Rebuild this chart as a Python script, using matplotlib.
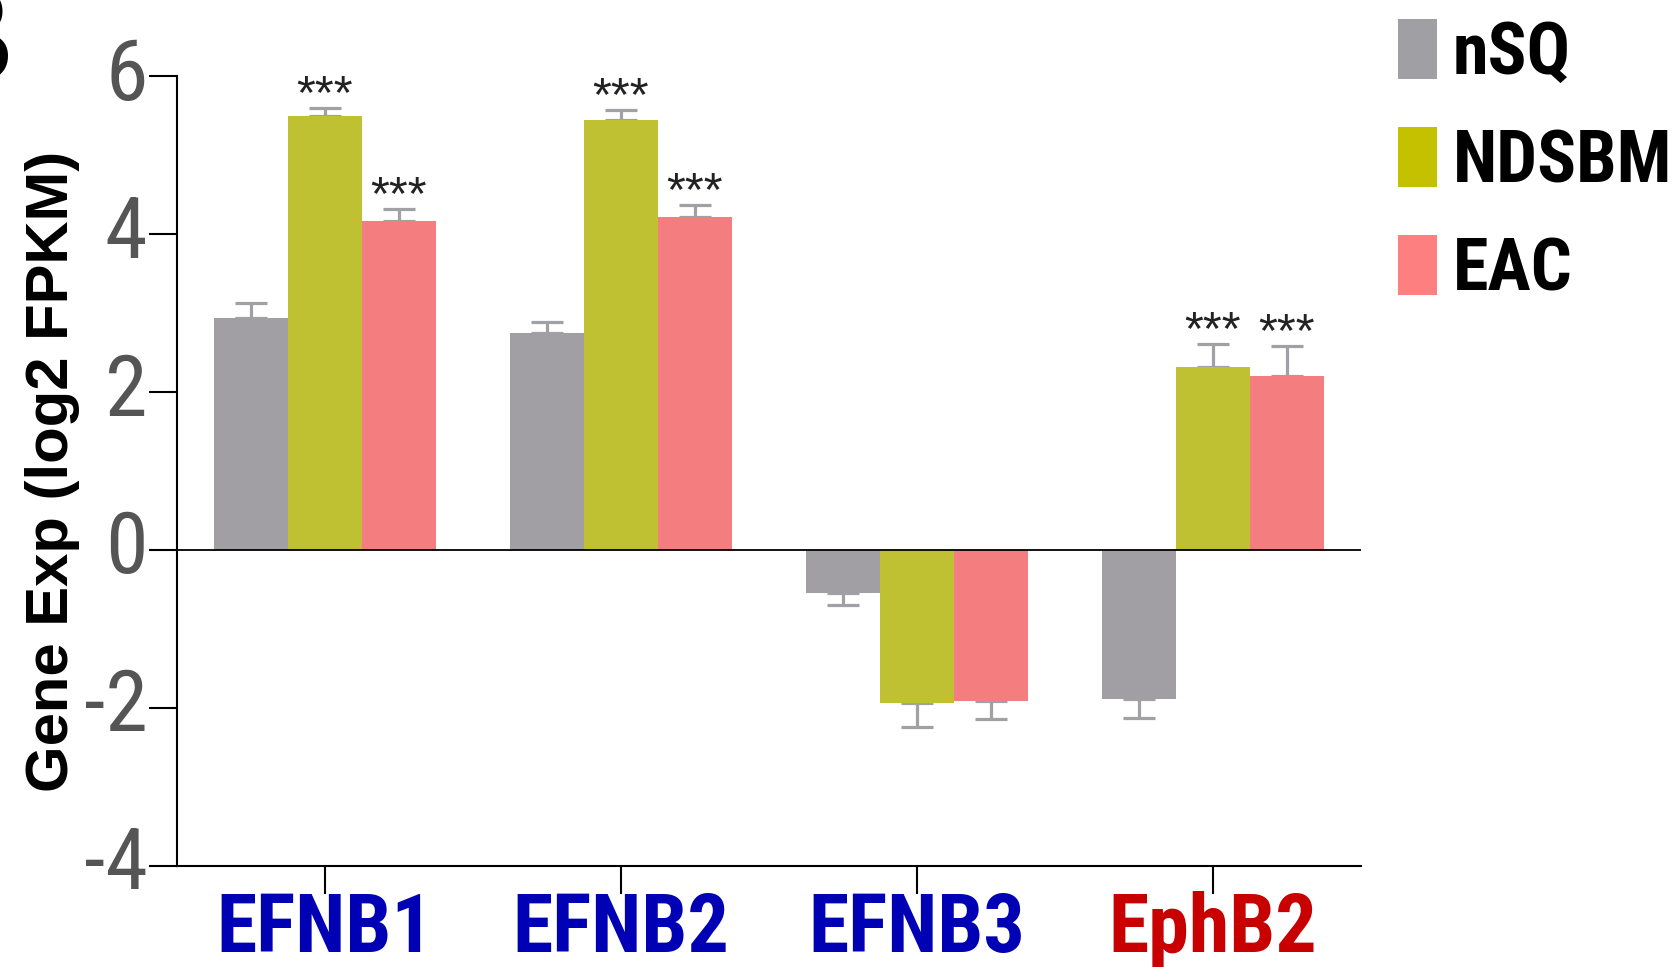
import numpy as np
import matplotlib
matplotlib.use('Agg')
import matplotlib.pyplot as plt
import matplotlib.transforms as mtransforms
from matplotlib.patches import Patch
from matplotlib import font_manager as fm

# Data
genes = ['EFNB1', 'EFNB2', 'EFNB3', 'EphB2']
gene_colors = ['#0000b4', '#0000b4', '#0000b4', '#c80000']
groups = ['nSQ', 'NDSBM', 'EAC']
nsq = [2.94, 2.75, -0.55, -1.89]
ndsbm = [5.49, 5.44, -1.94, 2.32]
eac = [4.17, 4.22, -1.92, 2.20]
nsq_err = [0.19, 0.14, 0.15, 0.24]
ndsbm_err = [0.11, 0.13, 0.31, 0.28]
eac_err = [0.15, 0.15, 0.22, 0.38]
ndsbm_sig = ['***', '***', '', '***']
eac_sig = ['***', '***', '', '***']
yticks = [-4, -2, 0, 2, 4, 6]

bar_colors = ['#a19fa4', '#bfc032', '#f37d7f']
legend_colors = ['#a09fa4', '#c4c100', '#fe7f7f']
err_color = '#a0a0a5'

# pick fonts that are actually installed
available = set(f.name for f in fm.fontManager.ttflist)


def pick(cands):
    for c in cands:
        if c in available:
            return [c, 'DejaVu Sans']
    return ['DejaVu Sans']


narrow = pick(['Liberation Sans Narrow', 'Arial Narrow', 'Roboto Condensed',
               'PT Sans Narrow', 'Archivo Narrow', 'Open Sans Condensed'])
bold = pick(['Liberation Sans', 'Arimo', 'Arial'])

fig = plt.figure(figsize=(16.78, 9.67), dpi=100)
ax = fig.add_axes([0.1053, 0.1048, 0.811 - 0.1053, 0.9214 - 0.1048])

x = np.arange(len(genes))
w = 0.25
series = [nsq, ndsbm, eac]
errs = [nsq_err, ndsbm_err, eac_err]
sigs = [None, ndsbm_sig, eac_sig]

for i, (vals, err, col) in enumerate(zip(series, errs, bar_colors)):
    xs = x + (i - 1) * w
    vals = np.array(vals)
    err = np.array(err)
    ax.bar(xs, vals, width=w, color=col, zorder=2)
    lower = np.where(vals < 0, err, 0)
    upper = np.where(vals >= 0, err, 0)
    ax.errorbar(xs, vals, yerr=[lower, upper], fmt='none', ecolor=err_color,
                elinewidth=2.3, capsize=11.5, capthick=2.3, zorder=1)
    if sigs[i] is not None:
        for xi, v, e, s in zip(xs, vals, err, sigs[i]):
            if s:
                ax.annotate(s, (xi, v + e), xytext=(0, 0), textcoords='offset points',
                            ha='center', va='baseline', fontsize=35,
                            family=bold, color='#222222')

ax.axhline(0, color='black', lw=1.3, zorder=3)

ax.set_xlim(-0.5, 3.5)
ax.set_ylim(-4, 6)
ax.set_yticks(yticks)
ax.set_yticklabels([str(t) for t in yticks], family=narrow, fontsize=62, color='#555555')
ax.set_xticks(x)
ax.set_xticklabels(genes, family=narrow, fontsize=59, fontweight='bold')
for lab, c in zip(ax.get_xticklabels(), gene_colors):
    lab.set_color(c)

ax.tick_params(axis='both', length=20, width=1.5, color='black', pad=1)
ax.tick_params(axis='x', pad=-2)
for s in ['top', 'right']:
    ax.spines[s].set_visible(False)
for s in ['left', 'bottom']:
    ax.spines[s].set_linewidth(1.5)

# y tick numbers sit a little above their ticks in the original
shift = mtransforms.ScaledTranslation(0, 6 / 72, fig.dpi_scale_trans)
for lab in ax.get_yticklabels():
    lab.set_transform(lab.get_transform() + shift)

fig.text(53 / 1678, 1 - 471 / 967, 'Gene Exp (log2 FPKM)', rotation=90,
         ha='center', va='center', fontsize=43, fontweight='bold', family=bold)

# partially cut panel letter
fig.text(14 / 1678, 1 - 83 / 967, 'B', ha='right', va='baseline',
         fontsize=100, fontweight='bold', family=bold)

handles = [Patch(facecolor=c, edgecolor='none') for c in legend_colors]
fig.legend(handles, groups, loc='upper left', bbox_to_anchor=(1398 / 1678, 1 - 19 / 967),
           frameon=False, prop={'family': narrow, 'weight': 'bold', 'size': 52},
           handlelength=0.54, handleheight=0.9, handletextpad=0.22,
           labelspacing=0.53, borderpad=0, borderaxespad=0)

fig.savefig('out.png', dpi=100)
